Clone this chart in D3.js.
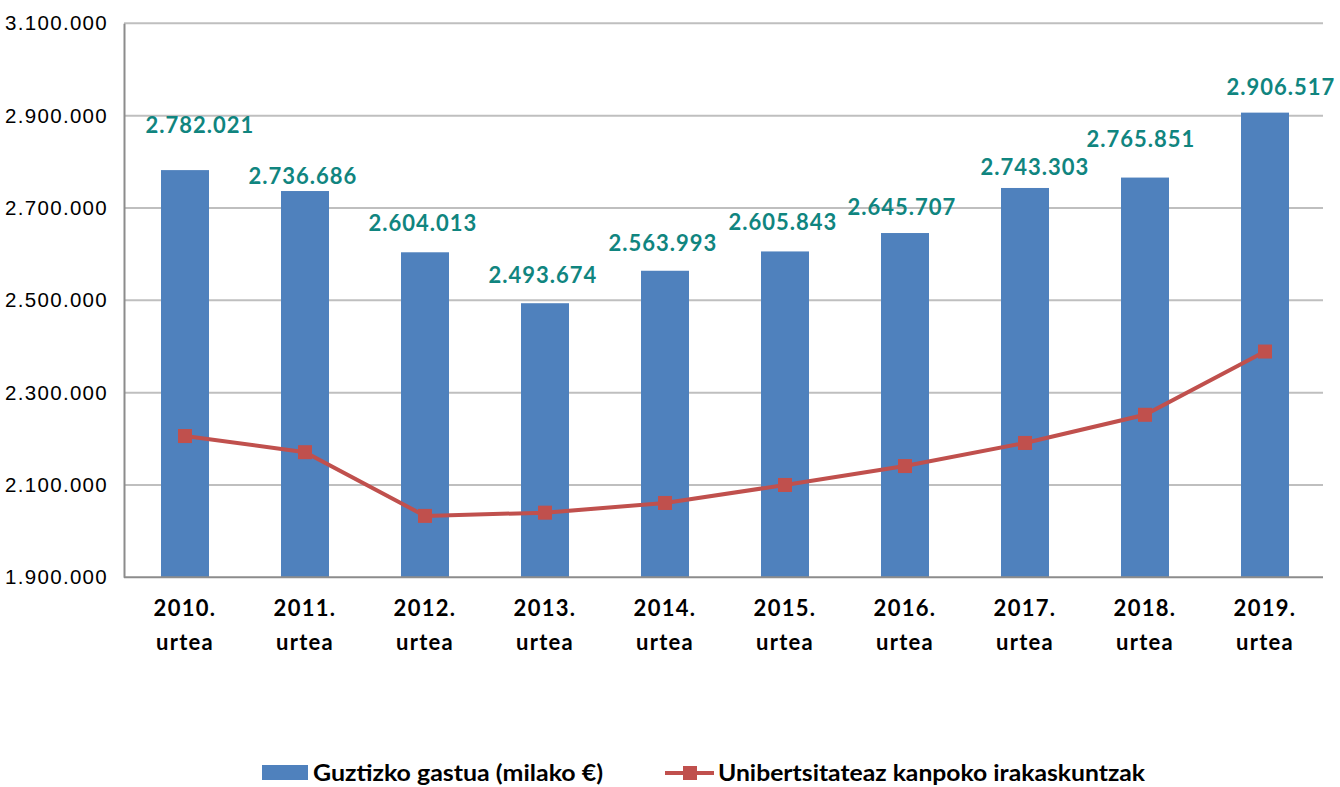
<!DOCTYPE html>
<html>
<head>
<meta charset="utf-8">
<script src="https://cdn.jsdelivr.net/npm/d3@7"></script>
<style>
  body { margin: 0; background: #fff; }
  svg { display: block; }
</style>
</head>
<body>
<script>
// data
var years = ['2010.', '2011.', '2012.', '2013.', '2014.', '2015.', '2016.', '2017.', '2018.', '2019.'];
var total = [2782021, 2736686, 2604013, 2493674, 2563993, 2605843, 2645707, 2743303, 2765851, 2906517];
var nonUni = [2206000, 2171000, 2033000, 2040000, 2061000, 2100000, 2141000, 2191000, 2252000, 2389000];
var yTicks = [1900000, 2100000, 2300000, 2500000, 2700000, 2900000, 3100000];
var seriesNames = ['Guztizko gastua (milako €)', 'Unibertsitateaz kanpoko irakaskuntzak'];

// label nudges (px) so the value labels sit where the original put them
var labelDx = [15, -2, -2, -2, -2, -2, -3, 10, -4, 16];
var labelLift = [45, 15, 29, 28, 28, 29, 26, 21, 39, 26];

var width = 1340, height = 787;
var plotLeft = 125, plotRight = 1325, plotTop = 23.3, plotBottom = 577.3;

var blue = '#4F81BD', red = '#C0504D', teal = '#10857F';

var svg = d3.select('body').append('svg')
  .attr('width', width)
  .attr('height', height);

var x = d3.scaleBand()
  .domain(years)
  .range([plotLeft, plotRight])
  .paddingInner(0.6)
  .paddingOuter(0.3);

var y = d3.scaleLinear()
  .domain([1900000, 3100000])
  .range([plotBottom, plotTop]);

var fmt = function(v) { return d3.format(',')(v).replace(/,/g, '.'); };

// gridlines
svg.append('g')
  .selectAll('line')
  .data(yTicks.slice(1))
  .enter().append('line')
  .attr('x1', plotLeft - 1).attr('x2', plotRight - 2)
  .attr('y1', function(d) { return y(d); })
  .attr('y2', function(d) { return y(d); })
  .attr('stroke', '#BFBFBF')
  .attr('stroke-width', 2);

// y axis
var yAxis = svg.append('g')
  .attr('transform', 'translate(' + (plotLeft - 1) + ',0)')
  .call(d3.axisLeft(y).tickValues(yTicks).tickSize(0).tickPadding(16).tickFormat(fmt));
yAxis.select('.domain').attr('stroke', '#8C8C8C').attr('stroke-width', 2);
yAxis.selectAll('text')
  .attr('font-family', 'Liberation Sans, Arial, sans-serif')
  .attr('font-size', 20.5)
  .attr('letter-spacing', 1.3)
  .attr('fill', '#000');

// bars
svg.append('g')
  .selectAll('rect')
  .data(total)
  .enter().append('rect')
  .attr('x', function(d, i) { return x(years[i]); })
  .attr('width', x.bandwidth())
  .attr('y', function(d) { return y(d); })
  .attr('height', function(d) { return plotBottom - y(d); })
  .attr('fill', blue);

// x axis line
svg.append('line')
  .attr('x1', plotLeft - 1).attr('x2', plotRight - 2)
  .attr('y1', plotBottom).attr('y2', plotBottom)
  .attr('stroke', '#8C8C8C')
  .attr('stroke-width', 2);

// x labels
var xl = svg.append('g')
  .selectAll('text')
  .data(years)
  .enter().append('text')
  .attr('text-anchor', 'middle')
  .attr('font-family', 'Lato, sans-serif')
  .attr('font-weight', 'bold')
  .attr('font-size', 22)
  .attr('letter-spacing', 1.3)
  .attr('fill', '#000');
xl.append('tspan')
  .attr('x', function(d) { return x(d) + x.bandwidth() / 2; })
  .attr('y', 616)
  .text(function(d) { return d; });
xl.append('tspan')
  .attr('x', function(d) { return x(d) + x.bandwidth() / 2; })
  .attr('y', 650)
  .text('urtea');

// value labels
svg.append('g')
  .selectAll('text')
  .data(total)
  .enter().append('text')
  .attr('x', function(d, i) { return x(years[i]) + x.bandwidth() / 2 + labelDx[i]; })
  .attr('y', function(d, i) { return y(d) - labelLift[i] + 8; })
  .attr('text-anchor', 'middle')
  .attr('font-family', 'Lato, sans-serif')
  .attr('font-weight', 'bold')
  .attr('font-size', 22)
  .attr('letter-spacing', 1)
  .attr('fill', teal)
  .text(fmt);

// line series
var line = d3.line()
  .x(function(d, i) { return x(years[i]) + x.bandwidth() / 2; })
  .y(function(d) { return y(d); });

svg.append('path')
  .datum(nonUni)
  .attr('d', line)
  .attr('fill', 'none')
  .attr('stroke', red)
  .attr('stroke-width', 4);

svg.append('g')
  .selectAll('rect')
  .data(nonUni)
  .enter().append('rect')
  .attr('x', function(d, i) { return x(years[i]) + x.bandwidth() / 2 - 7; })
  .attr('y', function(d) { return y(d) - 7; })
  .attr('width', 14).attr('height', 14)
  .attr('fill', red);

// legend
var lg = svg.append('g').attr('font-family', 'Lato, sans-serif')
  .attr('font-weight', 'bold').attr('font-size', 22).attr('fill', '#000');
lg.append('rect').attr('x', 262).attr('y', 765).attr('width', 46).attr('height', 15).attr('fill', blue);
lg.append('text').attr('x', 313).attr('y', 781)
  .attr('textLength', 290).attr('lengthAdjust', 'spacingAndGlyphs').text(seriesNames[0]);
lg.append('line').attr('x1', 665).attr('x2', 714).attr('y1', 773).attr('y2', 773)
  .attr('stroke', red).attr('stroke-width', 4);
lg.append('rect').attr('x', 683).attr('y', 766).attr('width', 14).attr('height', 14).attr('fill', red);
lg.append('text').attr('x', 718).attr('y', 781)
  .attr('textLength', 427).attr('lengthAdjust', 'spacingAndGlyphs').text(seriesNames[1]);
</script>
</body>
</html>
